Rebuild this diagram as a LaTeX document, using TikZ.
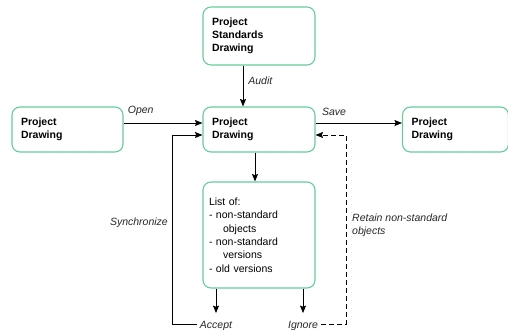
\documentclass[tikz,border=0pt]{standalone}
\usepackage{fontspec}
\setmainfont{Liberation Sans}
\usetikzlibrary{arrows.meta}
\definecolor{boxgreen}{RGB}{102,204,153}
\begin{document}
\begin{tikzpicture}[x=1pt,y=-1pt,
  font=\fontsize{10.5pt}{12.7pt}\selectfont,
  box/.style={draw=boxgreen, line width=1.1pt, rounded corners=8pt, align=left,
    inner xsep=9pt, inner ysep=0pt, font=\fontsize{10.5pt}{12.7pt}\selectfont\bfseries},
  listbox/.style={draw=boxgreen, line width=1.1pt, rounded corners=8pt, align=left,
    inner xsep=6pt, inner ysep=0pt, font=\fontsize{10.5pt}{13.3pt}\selectfont},
  lbl/.style={font=\fontsize{10.5pt}{13pt}\selectfont\itshape, text=black!85, inner sep=0pt},
  conn/.style={line width=0.8pt, -{Stealth[length=7.5pt,width=6pt,inset=1.2pt]}},
  dashconn/.style={line width=0.8pt, dash pattern=on 5pt off 3pt, -{Stealth[length=7.5pt,width=6pt,inset=1.2pt]}}
]
\useasboundingbox (0,0) rectangle (508,329);

\node[box, text width=94pt, minimum height=58pt] (std) at (259,36) {Project\\Standards\\Drawing};
\node[box, text width=93pt, minimum height=45pt] (left) at (67.5,129.5) {Project\\Drawing};
\node[box, text width=94pt, minimum height=45pt] (mid) at (259,129.5) {Project\\Drawing};
\node[box, text width=88pt, minimum height=45pt] (right) at (455.5,129.5) {Project\\Drawing};
\node[listbox, text width=100pt, minimum height=106pt] (list) at (259,235)
  {List of:\\- non-standard\\\hspace*{14pt}objects\\- non-standard\\\hspace*{14pt}versions\\- old versions\\[2pt]};

\node[lbl, anchor=base] (accept) at (216,328) {Accept};
\node[lbl, anchor=base] (ignore) at (303,328) {Ignore};
\coordinate (synccorner) at (172,324);
\coordinate (retaincorner) at (346,324);

\draw[conn] ([xshift=-16pt]std.south) -- node[lbl, anchor=west, xshift=5pt, pos=0.36] (audit) {Audit} ([xshift=-16pt]mid.north);
\draw[conn] ([yshift=6.5pt]left.east) -- node[lbl, anchor=south west, pos=0.05, yshift=7pt] (open) {Open} ([yshift=6.5pt]mid.west);
\draw[conn] ([yshift=6.5pt]mid.east) -- node[lbl, anchor=south west, pos=0.07, yshift=7pt] (save) {Save} ([yshift=6.5pt]right.west);
\draw[conn] ([xshift=-4pt]mid.south) -- ([xshift=-4pt]list.north);

\draw[conn, shorten >=7.5pt] ([xshift=-43pt]list.south) -- (accept.north);
\draw[conn, shorten >=7.5pt] ([xshift=44pt]list.south) -- (ignore.north);

\draw[conn] ([xshift=-3pt]accept.west |- synccorner) -- (synccorner) |- ([yshift=-5.5pt]mid.west);
\draw[dashconn] ([xshift=3pt]ignore.east |- retaincorner) -- (retaincorner) |- ([yshift=-5.5pt]mid.east);

\node[lbl, anchor=east] (sync) at (168,223) {Synchronize};
\node[lbl, anchor=west, align=left] (retain) at (352,225.5) {Retain non-standard\\objects};
\end{tikzpicture}
\end{document}
